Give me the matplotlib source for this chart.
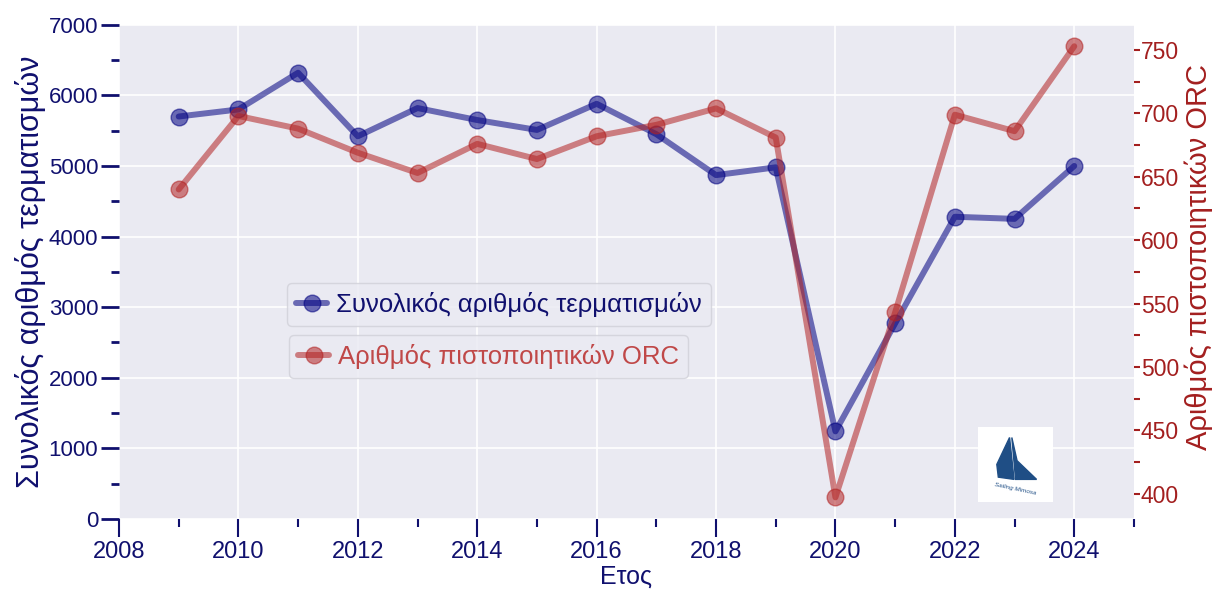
import numpy as np
import matplotlib
matplotlib.use("Agg")
import matplotlib.pyplot as plt
import seaborn as sns
from matplotlib.ticker import MultipleLocator
from matplotlib.patches import Polygon

# data
years = [2009, 2010, 2011, 2012, 2013, 2014, 2015, 2016,
         2017, 2018, 2019, 2020, 2021, 2022, 2023, 2024]
finishes = [5700, 5800, 6320, 5420, 5820, 5650, 5510, 5880,
            5450, 4870, 4980, 1240, 2770, 4280, 4250, 5000]
orc_certs = [640, 698, 688, 669, 653, 676, 664, 682,
             691, 704, 681, 397, 543, 699, 686, 753]

label_left = "Συνολικός αριθμός τερματισμών"
label_right = "Αριθμός πιστοποιητικών ORC"

sns.set_style("darkgrid")
plt.rcParams['font.family'] = ['Liberation Sans', 'DejaVu Sans']

navy = "#10106e"
dred = "#a31f1f"

fig = plt.figure(figsize=(12.18, 5.89), dpi=100)
ax = fig.add_axes([0.0977, 0.119, 0.8333, 0.839])
ax2 = ax.twinx()

l1, = ax.plot(years, finishes, color="navy", alpha=0.55, lw=4.3,
              marker="o", ms=12, label=label_left)
l2, = ax2.plot(years, orc_certs, color="firebrick", alpha=0.55, lw=4.3,
               marker="o", ms=12, label=label_right)

ax.set_xlim(2008, 2025)
ax.set_ylim(0, 7000)
ax2.set_ylim(380, 770)

ax.xaxis.set_major_locator(MultipleLocator(2))
ax.xaxis.set_minor_locator(MultipleLocator(1))
ax.yaxis.set_major_locator(MultipleLocator(1000))
ax.yaxis.set_minor_locator(MultipleLocator(500))
ax2.yaxis.set_major_locator(MultipleLocator(50))
ax2.yaxis.set_minor_locator(MultipleLocator(25))

ax.grid(True, which="major", color="white", lw=1.2)
ax.grid(False, which="minor")
ax2.grid(False)
for sp in list(ax.spines.values()) + list(ax2.spines.values()):
    sp.set_visible(False)

ax.tick_params(axis="y", which="major", left=True, length=13, width=2,
               color=navy, labelcolor=navy, labelsize=16, pad=2)
ax.tick_params(axis="y", which="minor", left=True, length=6, width=2, color=navy)
ax.tick_params(axis="x", which="major", bottom=True, length=13, width=1.5,
               color=navy, labelcolor=navy, labelsize=17, pad=3)
ax.tick_params(axis="x", which="minor", bottom=True, length=6, width=1.5, color=navy)
ax2.tick_params(axis="y", which="major", right=True, length=4, width=1.5,
                color=dred, labelcolor=dred, labelsize=16.5, pad=1)
ax2.tick_params(axis="y", which="minor", right=True, length=4, width=1.5, color=dred)

ax.set_xlabel("Ετος", color=navy, fontsize=18, labelpad=1)
ax.set_ylabel(label_left, color=navy, fontsize=22, labelpad=2)
ax2.set_ylabel(label_right, color=dred, fontsize=21, labelpad=0)
ax2.yaxis.set_label_coords(1.05, 0.53)

leg1 = ax2.legend(handles=[l1], loc="upper left", bbox_to_anchor=(0.153, 0.503),
                  fontsize=18.5, frameon=True, facecolor="#EAEAF2",
                  edgecolor="#d0d0d8", borderpad=0.35, handlelength=1.2,
                  handletextpad=0.35)
for t in leg1.get_texts():
    t.set_color(navy)
ax2.add_artist(leg1)
leg2 = ax2.legend(handles=[l2], loc="upper left", bbox_to_anchor=(0.155, 0.398),
                  fontsize=18.5, frameon=True, facecolor="#EAEAF2",
                  edgecolor="#d0d0d8", borderpad=0.35, handlelength=1.2,
                  handletextpad=0.35)
for t in leg2.get_texts():
    t.set_color("#c04848")

# small logo box
logo = fig.add_axes([0.803, 0.148, 0.0616, 0.127])
logo.set_facecolor("white")
logo.set_xlim(0, 1)
logo.set_ylim(0, 1)
logo.set_xticks([])
logo.set_yticks([])
for sp in logo.spines.values():
    sp.set_visible(False)
logo.grid(False)
logo.add_patch(Polygon([[0.42, 0.86], [0.25, 0.5], [0.27, 0.33], [0.48, 0.3]],
                       closed=True, color="#1f4e85"))
logo.add_patch(Polygon([[0.45, 0.86], [0.52, 0.55], [0.78, 0.3], [0.5, 0.3]],
                       closed=True, color="#1f4e85"))
logo.text(0.5, 0.17, "Sailing Mimosa", fontsize=4.5, color="#1f4e85",
          ha="center", va="center", rotation=-12, style="italic")

plt.savefig("out.png", dpi=100)
